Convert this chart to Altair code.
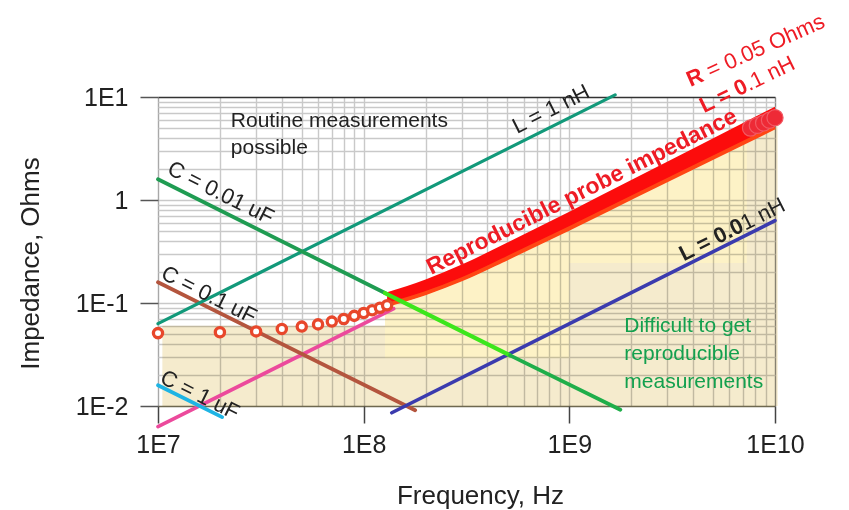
import altair as alt
import pandas as pd

SANS = "Liberation Sans, Arial, sans-serif"

# ---------------- data ----------------
x_grid = [float(f"{m}e{e}") for e in (7, 8, 9) for m in range(1, 10)] + [1e10]
y_grid = [float(f"{m}e{e}") for e in (-2, -1, 0) for m in range(1, 10)] + [10.0]

# straight reference lines (end points)
line_keys = ["L1nH", "C001a", "C001b", "C001c", "C01", "C1", "L01", "L001"]
line_f0 = [1e7, 1e7, 1.27e8, 5.15e8, 1e7, 1e7, 1e7, 1.37e8]
line_z0 = [0.063, 1.59, 0.125, 0.031, 0.159, 0.0159, 0.0063, 0.0086]
line_f1 = [1.67e9, 1.27e8, 5.15e8, 1.77e9, 1.78e8, 2.05e7, 1.4e8, 1e10]
line_z1 = [10.5, 0.125, 0.031, 0.0092, 0.0091, 0.0078, 0.088, 0.63]

# reproducible probe impedance (R = 0.05 Ohm, L = 0.1 nH)
probe_f = [1e7, 2e7, 3e7, 4e7, 5e7, 6e7, 7e7, 8e7, 9e7, 1.0e8, 1.1e8, 1.2e8, 1.3e8]
probe_z = [0.051, 0.052, 0.053, 0.056, 0.059, 0.062, 0.066, 0.070, 0.075, 0.080, 0.085, 0.090, 0.095]
cap_f = [7.6e9, 8.2e9, 8.8e9, 9.4e9, 1.0e10]
cap_z = [5.0, 5.3, 5.6, 5.95, 6.3]
band_f = [1.3e8, 2e8, 3e8, 5e8, 1e9, 2e9, 1e10]
band_hi = [0.127, 0.169, 0.236, 0.387, 0.77, 1.56, 8.05]
band_lo = [0.093, 0.121, 0.165, 0.265, 0.515, 1.02, 4.93]
band_edge = [0.096, 0.125, 0.170, 0.273, 0.53, 1.05, 5.08]

# shaded regions
tan_f1 = [1.05e7, 1.27e8, 1e9, 7.3e9]
tan_f2 = [1.27e8, 1e9, 1.03e10, 1.03e10]
tan_z1 = [0.01, 0.01, 0.01, 0.244]
tan_z2 = [0.06, 0.029, 0.244, 6.0]
light1_f = [1.27e8, 2e8, 3e8, 5e8, 1e9]
light1_top = [0.093, 0.121, 0.165, 0.265, 0.515]
light2_f = [1e9, 2e9, 7.3e9]
light2_top = [0.515, 1.02, 3.7]

# rotated capacitor labels
c_labels = ["C = 0.01 uF", "C = 0.1 uF", "C = 1 uF"]
c_label_f = [2.02e7, 1.77e7, 1.6e7]
c_label_z = [1.17, 0.12, 0.0128]

# ---------------- scales / axes ----------------
xs = alt.Scale(type="log", domain=[1e7, 1e10], nice=False)
ys = alt.Scale(type="log", domain=[0.01, 10], nice=False)

x_axis = alt.Axis(
    values=x_grid,
    labelExpr="datum.value == 10000000 ? '1E7' : datum.value == 100000000 ? '1E8' : datum.value == 1000000000 ? '1E9' : datum.value == 10000000000 ? '1E10' : ''",
    grid=True,
    gridColor={"condition": [{"test": "datum.value == 10000000000", "value": "#8c8c8c"},
                             {"test": "datum.value == 10000000", "value": "#a8a8a8"}],
               "value": "#c9c9c9"},
    gridWidth=1.4,
    domain=False,
    tickSize=17, tickWidth=1.5, tickColor="#444",
    tickOpacity={"condition": {"test": "datum.value == 10000000 || datum.value == 100000000 || datum.value == 1000000000 || datum.value == 10000000000", "value": 1}, "value": 0},
    labelFont=SANS, labelFontSize=25, labelColor="#222", labelPadding=9,
    labelOverlap=False, labelFlush=False,
    title="Frequency, Hz", titleFont=SANS, titleFontSize=26, titleFontWeight="normal",
    titleColor="#222", titleX=322, titleY=97, titleBaseline="alphabetic", titleAlign="center",
)
y_axis = alt.Axis(
    values=y_grid,
    labelExpr="datum.value == 10 ? '1E1' : datum.value == 1 ? '1' : datum.value == 0.1 ? '1E-1' : datum.value == 0.01 ? '1E-2' : ''",
    grid=True,
    gridColor={"condition": [{"test": "datum.value == 10", "value": "#333333"},
                             {"test": "datum.value == 0.01", "value": "#6e6850"}],
               "value": "#c9c9c9"},
    gridWidth=1.4,
    domain=False,
    tickSize=18, tickWidth=1.5, tickColor="#555",
    tickOpacity={"condition": {"test": "datum.value == 10 || datum.value == 1 || datum.value == 0.1 || datum.value == 0.01", "value": 1}, "value": 0},
    labelFont=SANS, labelFontSize=25, labelColor="#222", labelPadding=12,
    labelOverlap=False, labelFlush=False,
    title="Impedance, Ohms", titleFont=SANS, titleFontSize=26, titleFontWeight="normal",
    titleColor="#222", titleAngle=270, titleX=-128, titleY=166, titleBaseline="middle", titleAlign="center",
)


def X(field="f"):
    return alt.X(f"{field}:Q", scale=xs, axis=x_axis)


def Y(field="z"):
    return alt.Y(f"{field}:Q", scale=ys, axis=y_axis)


layers = []

# shaded regions
tan_df = pd.DataFrame({"f": tan_f1, "f2": tan_f2, "z": tan_z1, "z2": tan_z2})
layers.append(
    alt.Chart(tan_df).mark_rect(color="#f5ebcd", blend="multiply").encode(
        x=X(), x2="f2:Q", y=Y(), y2="z2:Q"
    )
)
for lf, lt, floor in [(light1_f, light1_top, 0.029), (light2_f, light2_top, 0.244)]:
    d = pd.DataFrame({"f": lf, "z": lt, "z2": [floor] * len(lf)})
    layers.append(
        alt.Chart(d).mark_area(color="#fdf2c6", blend="multiply").encode(x=X(), y=Y(), y2="z2:Q")
    )

line_style = {
    "L1nH": ("#12997a", 3.2),
    "C001a": ("#1f9c52", 3.8),
    "C001b": ("#3ce61c", 4.2),
    "C001c": ("#1fae4a", 3.8),
    "C01": ("#b4553e", 3.8),
    "C1": ("#1eb4e4", 3.8),
    "L01": ("#ec4a9c", 3.6),
    "L001": ("#3b3bae", 3.6),
}


def seg(key):
    i = line_keys.index(key)
    d = pd.DataFrame({"f": [line_f0[i], line_f1[i]], "z": [line_z0[i], line_z1[i]]})
    col, w = line_style[key]
    return alt.Chart(d).mark_line(color=col, strokeWidth=w, strokeCap="round").encode(x=X(), y=Y())


for k in ["L01", "C1", "C01", "L001", "L1nH", "C001a"]:
    layers.append(seg(k))

# probe impedance band
band_df = pd.DataFrame({"f": band_f, "z": band_hi, "z2": band_lo, "e": band_edge})
layers.append(alt.Chart(band_df).mark_area(color="#fc0c0c", interpolate="monotone").encode(x=X(), y=Y(), y2="z2:Q"))
layers.append(alt.Chart(band_df).mark_line(color="#ff4614", strokeWidth=4, interpolate="monotone").encode(x=X(), y=Y("e")))

probe_df = pd.DataFrame({"f": probe_f, "z": probe_z})
layers.append(
    alt.Chart(probe_df).mark_point(shape="circle", filled=False, fill="white", fillOpacity=1,
                                   stroke="#e8472b", strokeWidth=3.3, size=85, opacity=1).encode(x=X(), y=Y())
)
cap_df = pd.DataFrame({"f": cap_f, "z": cap_z})
layers.append(
    alt.Chart(cap_df).mark_point(shape="circle", filled=True, fill="#ee2a36", stroke="#f25a64",
                                 strokeWidth=1.2, size=260, opacity=1).encode(x=X(), y=Y())
)

for k in ["C001b", "C001c"]:
    layers.append(seg(k))


# ---------------- text ----------------
def text_layer(f, z, t, **kw):
    d = pd.DataFrame({"f": [f], "z": [z], "t": [t]})
    return alt.Chart(d).mark_text(**kw).encode(x=X(), y=Y(), text="t:N")


layers.append(text_layer(2.26e7, 5.12, "Routine measurements\npossible", lineBreak="\n", lineHeight=27,
                         align="left", baseline="alphabetic", font=SANS, fontSize=21, color="#222"))
layers.append(text_layer(1.85e9, 0.0522, "Difficult to get\nreproducible\nmeasurements", lineBreak="\n",
                         lineHeight=28, align="left", baseline="alphabetic", font=SANS, fontSize=21,
                         color="#13a04e"))

for t, f, z in zip(c_labels, c_label_f, c_label_z):
    layers.append(text_layer(f, z, t, angle=26.6, align="center", baseline="middle", font=SANS,
                             fontSize=22, color="#222"))

layers.append(text_layer(8.15e8, 7.64, "L = 1 nH", angle=333.4, align="center", baseline="middle",
                         font=SANS, fontSize=22, color="#222"))
layers.append(text_layer(1.15e9, 1.2, "Reproducible probe impedance", angle=333.4, align="center",
                         baseline="middle", font=SANS, fontSize=23, fontWeight="bold", color="#ee1c25"))

# partially bold labels: bold part right-aligned, regular part left-aligned at same anchor
split_labels = [
    ("R", "= 0.05 Ohms", 4.43e9, 16.7, 336, "#ee1c25", 6),
    ("L = 0", ".1 nH", 7.24e9, 13.1, 334, "#ee1c25", 0),
    ("L = 0.0", "1 nH", 6.92e9, 0.58, 333.4, "#222", 0),
]
for bold, reg, f, z, ang, col, gap in split_labels:
    layers.append(text_layer(f, z, bold, angle=ang, align="right", baseline="middle", font=SANS,
                             fontSize=22, fontWeight="bold", color=col))
    layers.append(text_layer(f, z, reg, angle=ang, align="left", baseline="middle", font=SANS,
                             fontSize=22, color=col, dx=gap))

chart = alt.layer(*layers).properties(
    width=617, height=309,
    autosize=alt.AutoSizeParams(type="none"),
    padding={"left": 158, "top": 97, "right": 74, "bottom": 104},
    background="white",
).configure_view(stroke=None)

chart.save("out.html", embed_options={"renderer": "svg", "actions": False})
